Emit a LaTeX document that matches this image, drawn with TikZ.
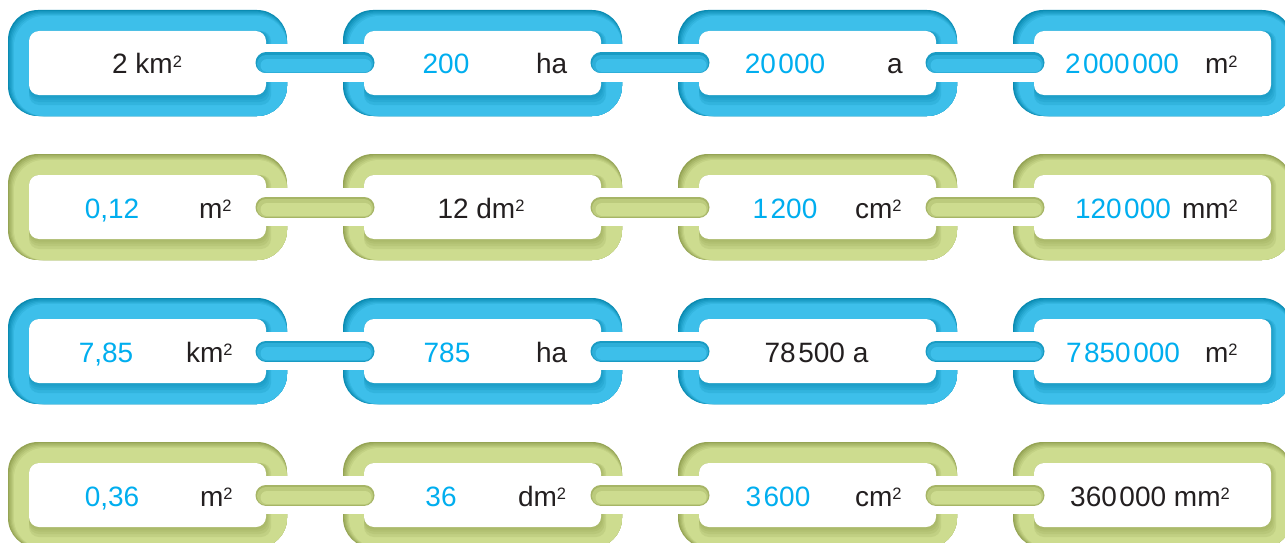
\documentclass[tikz,border=0pt]{standalone}
\usepackage{fontspec}
\setmainfont{Liberation Sans}
\definecolor{cbL}{HTML}{3DBFEA}
\definecolor{cbD}{HTML}{0A8BB2}
\definecolor{cgL}{HTML}{CDDC8F}
\definecolor{cgD}{HTML}{95A454}
\definecolor{numc}{HTML}{00AEEF}
\definecolor{txtc}{HTML}{231F20}
\newcommand\squp{\raisebox{6.5pt}{\fontsize{16.5}{16.5}\selectfont 2}}
\newcommand\ts{\hspace{2.5pt}}
\tikzset{
  inbox/.style={rectangle, rounded corners=10pt, fill=white, draw=none,
    minimum width=237pt, minimum height=64pt, inner sep=0pt, outer sep=0pt},
  lab/.style={font=\fontsize{28}{32}\selectfont, inner sep=0pt, outer sep=0pt},
  num/.style={lab, text=numc, anchor=base},
  unit/.style={lab, text=txtc, anchor=base west},
  whole/.style={lab, text=txtc, anchor=base}
}
\begin{document}
\begin{tikzpicture}[x=1pt,y=-1pt]
\useasboundingbox (0,0) rectangle (1285,543);
\clip (0,0) rectangle (1285,543);
% links
\foreach \r/\cy/\col in {1/63/cb, 2/207/cg, 3/351/cb, 4/495/cg}{
  \foreach \k/\cx in {1/147.5, 2/482.5, 3/817.5, 4/1152.5}{
    \fill[\col D, rounded corners=30pt] (\cx-139.5,\cy-53) rectangle (\cx+139.5,\cy+53);
    \foreach \i/\m in {1.2/25, 2.4/45, 3.6/65, 4.8/82, 6/100}{
      \fill[\col L!\m!\col D, rounded corners=30pt] (\cx-139.5+\i,\cy-53+\i) rectangle (\cx+139.5,\cy+53);
    }
    \foreach \s in {10,7,4.5,2.5}{
      \fill[\col D, opacity=0.2, rounded corners=10pt] (\cx-118.5,\cy-32) rectangle (\cx+118.5+0.5*\s,\cy+32+\s);
    }
    \node[inbox] (I\r\k) at (\cx,\cy) {};
  }
}
% bars between links
\foreach \r/\col in {1/cb, 2/cg, 3/cb, 4/cg}{
  \foreach \k/\n in {1/2, 2/3, 3/4}{
    \fill[white] ([yshift=19pt]I\r\k.east) rectangle ([xshift=22pt,yshift=-19pt]I\r\k.east);
    \fill[white] ([yshift=19pt]I\r\n.west) rectangle ([xshift=-22pt,yshift=-19pt]I\r\n.west);
    \draw[\col L!30!\col D, line width=21pt, line cap=round] (I\r\k.east) -- (I\r\n.west);
    \draw[\col L!70!\col D, line width=18pt, line cap=round] ([yshift=-1pt]I\r\k.east) -- ([yshift=-1pt]I\r\n.west);
    \draw[\col L, line width=13pt, line cap=round] ([yshift=-2.5pt,xshift=1pt]I\r\k.east) -- ([yshift=-2.5pt,xshift=1pt]I\r\n.west);
  }
}
% row 1
\node[whole] (t11) at (147,74) {2 km\squp};
\node[num] (n12) at (446,74) {200};
\node[unit] (u12) at (536,74) {ha};
\node[num] (n13) at (785,74) {20\ts000};
\node[unit] (u13) at (887,74) {a};
\node[num] (n14) at (1122,74) {2\ts000\ts000};
\node[unit] (u14) at (1205,74) {m\squp};
% row 2
\node[num] (n21) at (112,218) {0,12};
\node[unit] (u21) at (199,218) {m\squp};
\node[whole] (t22) at (481,218) {12 dm\squp};
\node[num] (n23) at (785,218) {1\ts200};
\node[unit] (u23) at (855,218) {cm\squp};
\node[num] (n24) at (1123,218) {120\ts000};
\node[unit] (u24) at (1182,218) {mm\squp};
% row 3
\node[num] (n31) at (106,362) {7,85};
\node[unit] (u31) at (186,362) {km\squp};
\node[num] (n32) at (447,362) {785};
\node[unit] (u32) at (536,362) {ha};
\node[whole] (t33) at (816.5,362) {78\ts500 a};
\node[num] (n34) at (1123,362) {7\ts850\ts000};
\node[unit] (u34) at (1205,362) {m\squp};
% row 4
\node[num] (n41) at (112,506) {0,36};
\node[unit] (u41) at (200,506) {m\squp};
\node[num] (n42) at (441,506) {36};
\node[unit] (u42) at (518,506) {dm\squp};
\node[num] (n43) at (778,506) {3\ts600};
\node[unit] (u43) at (855,506) {cm\squp};
\node[whole] (t44) at (1150,506) {360\ts000 mm\squp};
\end{tikzpicture}
\end{document}
